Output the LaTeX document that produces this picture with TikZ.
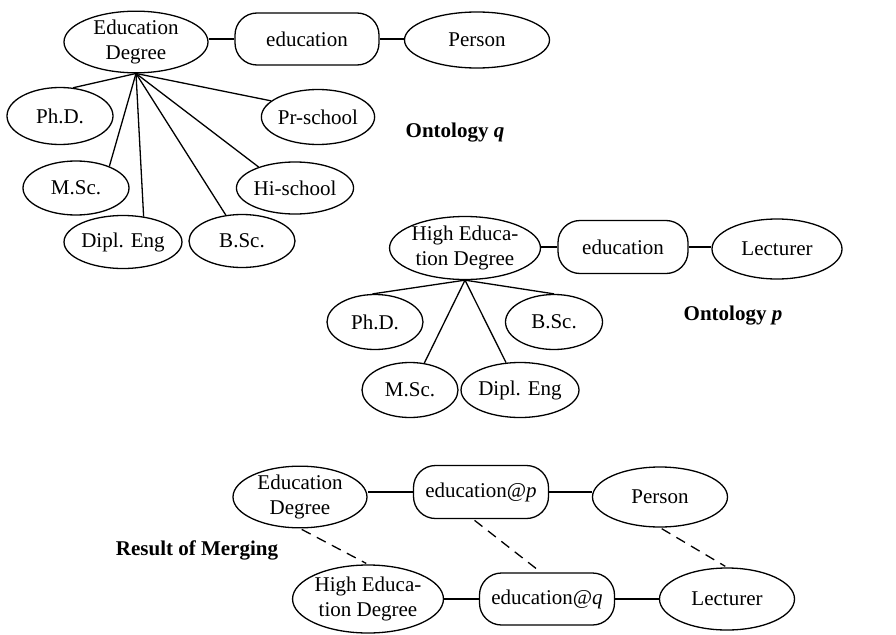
\documentclass[tikz,border=0pt]{standalone}
\usepackage{fontspec}
\setmainfont{Liberation Serif}
\usetikzlibrary{shapes.geometric}

\tikzset{
  concept/.style={ellipse, draw, line width=1.3pt, inner sep=0pt, align=center,
    font=\fontsize{21}{24.5}\selectfont},
  relation/.style={rectangle, draw, line width=1.3pt, rounded corners=22pt,
    inner sep=0pt, align=center, font=\fontsize{21}{24.5}\selectfont},
  link/.style={line width=1.3pt},
  corresp/.style={line width=1.3pt, dash pattern=on 10pt off 7pt, shorten <=2pt, shorten >=2pt},
  caption/.style={font=\fontsize{21}{24}\selectfont\bfseries, inner sep=0pt}
}

\begin{document}
\begin{tikzpicture}[x=1pt,y=-1pt]
\useasboundingbox (0,0) rectangle (896,634);

% ---- Ontology q ----
\node[concept, minimum width=144pt, minimum height=61pt] (ed) at (136,42) {Education\\Degree};
\node[relation, minimum width=144pt, minimum height=52pt] (edu) at (307,39) {education};
\node[concept, minimum width=145pt, minimum height=56pt] (person) at (477,40) {Person};
\node[concept, minimum width=106pt, minimum height=57pt] (phd) at (60,116) {Ph.D.};
\node[concept, minimum width=107pt, minimum height=55pt] (prs) at (318,117) {Pr-school};
\node[concept, minimum width=106pt, minimum height=54pt] (msc) at (76,188) {M.Sc.};
\node[concept, minimum width=106pt, minimum height=52pt] (his) at (295,188) {Hi-school};
\node[concept, minimum width=97pt, minimum height=53pt] (dipl) at (123,242) {Dipl. Eng};
\node[concept, minimum width=106pt, minimum height=53pt] (bsc) at (242,241) {B.Sc.};
\node[caption] (capq) at (455,133) {Ontology \textit{q}};

\draw[link] (edu.west) -- (edu.west -| ed.east);
\draw[link] (edu.east) -- (edu.east -| person.west);
\coordinate (hubq) at (ed.south);
\draw[link] (hubq) -- (phd.65);
\draw[link] (hubq) -- (msc.33);
\draw[link] (hubq) -- (dipl.51);
\draw[link] (hubq) -- (bsc.122);
\draw[link] (hubq) -- (his.150);
\draw[link] (hubq) -- (prs.161);

% ---- Ontology p ----
\node[concept, minimum width=132pt, minimum height=63pt] (hed) at (465,248) {High Educa-\\tion Degree};
\node[relation, minimum width=130pt, minimum height=53pt] (edu2) at (623,247) {education};
\node[concept, minimum width=130pt, minimum height=60pt] (lect) at (777,249) {Lecturer};
\node[concept, minimum width=96pt, minimum height=55pt] (phd2) at (375,322) {Ph.D.};
\node[concept, minimum width=97pt, minimum height=55pt] (bsc2) at (554,322) {B.Sc.};
\node[concept, minimum width=96pt, minimum height=55pt] (msc2) at (410,390) {M.Sc.};
\node[concept, minimum width=96pt, minimum height=55pt] (dipl2) at (520,390) {Dipl. Eng};
\node[caption] (capp) at (733,316) {Ontology \textit{p}};

\draw[link] (edu2.west) -- (edu2.west -| hed.east);
\draw[link] (edu2.east) -- (edu2.east -| lect.west);
\coordinate (hubp) at (hed.south);
\draw[link] (hubp) -- (phd2.95);
\draw[link] (hubp) -- (bsc2.90);
\draw[link] (hubp) -- (msc2.62);
\draw[link] (hubp) -- (dipl2.117);

% ---- Result of merging ----
\node[concept, minimum width=134pt, minimum height=59pt] (red) at (300,497) {Education\\Degree};
\node[relation, minimum width=135pt, minimum height=53pt] (redp) at (481,492) {education@\textit{p}};
\node[concept, minimum width=135pt, minimum height=60pt] (rperson) at (660,497) {Person};
\node[concept, minimum width=133pt, minimum height=68pt] (rhed) at (368,599) {High Educa-\\tion Degree};
\node[relation, minimum width=135pt, minimum height=52pt] (redq) at (547,599) {education@\textit{q}};
\node[concept, minimum width=135pt, minimum height=62pt] (rlect) at (727,599) {Lecturer};
\node[caption] (capr) at (197,550) {Result of Merging};

\draw[link] (redp.west) -- (redp.west -| red.east);
\draw[link] (redp.east) -- (redp.east -| rperson.west);
\draw[link] (redq.west) -- (redq.west -| rhed.east);
\draw[link] (redq.east) -- (redq.east -| rlect.west);

\draw[corresp] (red.south) -- (rhed.north);
\draw[corresp] ([xshift=-8pt]redp.south) -- ([xshift=-6pt]redq.north);
\draw[corresp] (rperson.south) -- (rlect.north);
\end{tikzpicture}
\end{document}
